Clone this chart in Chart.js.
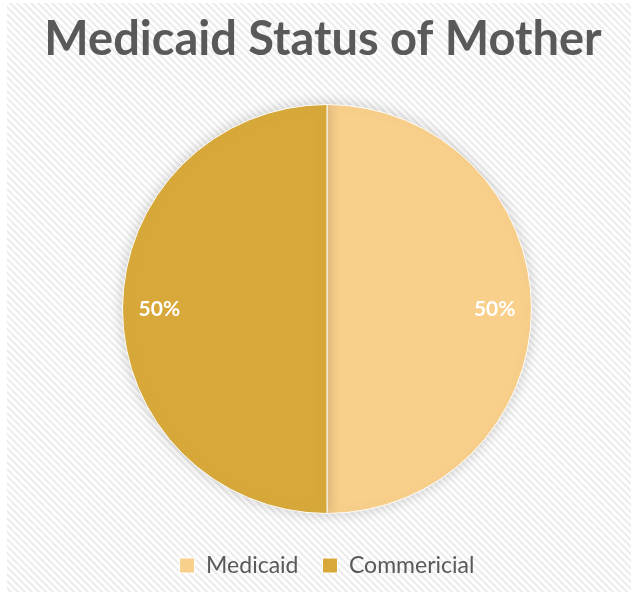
<!DOCTYPE html>
<html>
<head>
<meta charset="utf-8">
<script src="https://cdn.jsdelivr.net/npm/chart.js@4"></script>
<style>
  html, body { margin: 0; padding: 0; background: #fff; }
  #wrap { width: 638px; height: 599px; }
</style>
</head>
<body>
<div id="wrap"><canvas id="medicaidChart" width="638" height="599"></canvas></div>
<script>
// values
var categories = ['Medicaid', 'Commericial'];
var shares = [50, 50];
var sliceColors = ['#F8CF8B', '#D8A93A'];
var chartTitle = 'Medicaid Status of Mother';

// striped backdrop like the office chart area, plus title and labels
var decor = {
  id: 'decor',
  beforeDraw: function (chart) {
    var ctx = chart.ctx;
    ctx.save();
    ctx.fillStyle = '#fff';
    ctx.fillRect(0, 0, chart.width, chart.height);
    ctx.beginPath();
    ctx.rect(7, 3, 624, 589);
    ctx.clip();
    ctx.strokeStyle = '#ededed';
    ctx.lineWidth = 2.2;
    for (var i = -700; i < 700; i += 7) {
      ctx.beginPath();
      ctx.moveTo(i, 0);
      ctx.lineTo(i + 620, 620);
      ctx.stroke();
    }
    ctx.restore();

    // title drawn by hand so it is not squeezed into the padded box
    ctx.save();
    ctx.fillStyle = '#595959';
    ctx.font = 'bold 47px Lato';
    ctx.textAlign = 'center';
    ctx.textBaseline = 'alphabetic';
    ctx.fillText(chartTitle, 323, 55);
    ctx.restore();
  },
  beforeDatasetsDraw: function (chart) {
    var ctx = chart.ctx;
    ctx.save();
    ctx.shadowColor = 'rgba(0,0,0,0.18)';
    ctx.shadowBlur = 14;
  },
  afterDatasetsDraw: function (chart) {
    chart.ctx.restore();
    // percent labels inside slices
    var ctx = chart.ctx;
    var meta = chart.getDatasetMeta(0);
    var total = shares.reduce(function (a, b) { return a + b; }, 0);
    ctx.save();
    ctx.fillStyle = '#fff';
    ctx.font = 'bold 21px Lato';
    ctx.textAlign = 'center';
    ctx.textBaseline = 'middle';
    meta.data.forEach(function (arc, i) {
      var p = arc.getProps(['x', 'y', 'startAngle', 'endAngle', 'outerRadius']);
      var mid = (p.startAngle + p.endAngle) / 2;
      var r = p.outerRadius * 0.82;
      var pct = Math.round(shares[i] / total * 100) + '%';
      ctx.fillText(pct, p.x + Math.cos(mid) * r, p.y + Math.sin(mid) * r);
    });
    ctx.restore();
  }
};

var ctx = document.getElementById('medicaidChart').getContext('2d');
var chart = new Chart(ctx, {
  type: 'pie',
  data: {
    labels: categories,
    datasets: [{
      data: shares,
      backgroundColor: sliceColors,
      borderColor: '#ffffff',
      borderWidth: 1
    }]
  },
  options: {
    responsive: false,
    animation: false,
    layout: { padding: { top: 88, left: 122, right: 106, bottom: 12 } },
    plugins: {
      title: { display: false },
      legend: {
        position: 'bottom',
        labels: {
          color: '#595959',
          font: { family: 'Lato', size: 23 },
          boxWidth: 15,
          boxHeight: 15,
          padding: 24
        }
      },
      tooltip: { enabled: false }
    }
  },
  plugins: [decor]
});
</script>
</body>
</html>
